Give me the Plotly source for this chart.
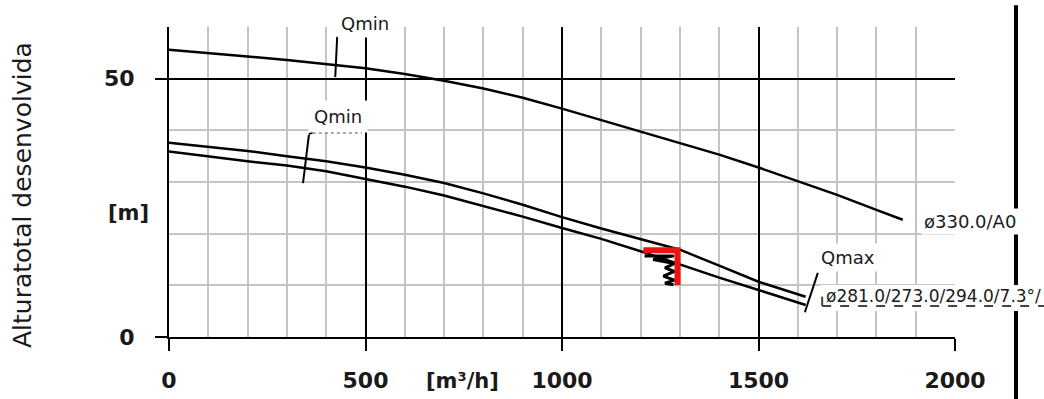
import plotly.graph_objects as go

# ---------------- data ----------------
q_330 = [0, 100, 200, 300, 400, 500, 600, 700, 800, 900, 1000, 1100, 1200, 1300, 1400, 1500, 1600, 1700, 1800, 1867]
h_330 = [55.6, 55.0, 54.3, 53.6, 52.8, 52.0, 50.9, 49.6, 48.1, 46.3, 44.2, 42.0, 39.8, 37.6, 35.3, 32.8, 30.2, 27.5, 24.6, 22.7]

q_mid = [0, 100, 200, 300, 400, 500, 600, 700, 800, 900, 1000, 1100, 1200, 1300, 1400, 1500, 1620]
h_mid_upper = [37.6, 36.8, 36.0, 35.0, 34.0, 32.8, 31.4, 29.8, 27.8, 25.6, 23.2, 21.0, 18.9, 16.9, 13.8, 10.7, 7.8]
h_mid_lower = [35.9, 34.9, 34.0, 33.2, 32.1, 30.6, 29.1, 27.4, 25.4, 23.3, 21.1, 19.0, 16.6, 14.0, 11.5, 9.1, 6.2]

# operating point marker (red) and hatch
op_x = [1207, 1294, 1294]
op_y = [16.8, 16.8, 10.0]
hatch_x = [1210, 1285, 1232, 1286, 1262, 1286, 1258, 1286, 1262, 1284]
hatch_y = [15.7, 15.7, 15.0, 14.2, 13.4, 12.7, 11.8, 11.0, 10.4, 10.1]

# Qmin / Qmax ticks
qmin_top_x = [428, 423]
qmin_top_y = [58.1, 50.3]
qmin_mid_x = [356, 341]
qmin_mid_y = [39.1, 29.8]
qmin_mid_lead_x = [356, 366]
qmin_mid_lead_y = [39.3, 39.6]
qmin_mid_dot_x = [366, 491]
qmin_mid_dot_y = [39.6, 39.6]
qmax_x = [1651, 1618]
qmax_y = [12.4, 4.8]

x_tickvals = [0, 500, 1000, 1500, 2000]
x_ticktext = ["0", "500", "1000", "1500", "2000"]
y_tickvals = [0, 50]
y_ticktext = ["0", "50"]

labels = ["Qmin", "Qmin", "Qmax", "ø330.0/A0", "ø281.0/273.0/294.0/7.3°/"]

TXT = "#1a1a1a"
FONT = "DejaVu Sans"

fig = go.Figure()

def line(x, y, color="black", width=2.5, dash=None):
    fig.add_trace(go.Scatter(x=x, y=y, mode="lines", showlegend=False, hoverinfo="skip",
                             line=dict(color=color, width=width, dash=dash)))

line(q_330, h_330)
line(q_mid, h_mid_upper)
line(q_mid, h_mid_lower)
line(qmin_top_x, qmin_top_y, width=2)
line(qmin_mid_x, qmin_mid_y, width=2)
line(qmin_mid_lead_x, qmin_mid_lead_y, width=2)
line(qmin_mid_dot_x, qmin_mid_dot_y, color="#555", width=2, dash="dot")
line(qmax_x, qmax_y, width=2)
line(hatch_x, hatch_y, width=3)
line(op_x, op_y, color="#ee1111", width=6)

# thick right vertical line
fig.add_shape(type="line", xref="paper", yref="paper", x0=1.0776, x1=1.0776, y0=1.07, y1=-0.25,
              line=dict(color="black", width=4), layer="above")
# white box behind the right label, with its dashed leader
fig.add_shape(type="rect", xref="paper", yref="paper", x0=0.829, x1=1.13, y0=0.084, y1=0.168,
              fillcolor="white", line=dict(width=0), layer="above")
fig.add_shape(type="line", xref="paper", yref="paper", x0=0.831, x1=1.12, y0=0.100, y1=0.100,
              line=dict(color="#444", width=2, dash="dash"), layer="above")
fig.add_shape(type="line", xref="paper", yref="paper", x0=0.831, x1=0.831, y0=0.100, y1=0.13,
              line=dict(color="#444", width=2), layer="above")

def ann(text, x, y, xanchor="center", size=18, xref="x", yref="y", pad=3, bg="white", bold=False, **kw):
    fig.add_annotation(text=text, x=x, y=y, xref=xref, yref=yref, xanchor=xanchor, yanchor="middle",
                       showarrow=False,
                       font=dict(family=FONT, size=size, color=TXT, weight="bold" if bold else "normal"),
                       bgcolor=bg, borderpad=pad, **kw)

ann(labels[0], 0.249, 1.01, xref="paper", yref="paper", size=18)
ann(labels[1], 430, 42.6, size=18, pad=5)
ann(labels[2], 1728, 15.3, size=18)
ann(labels[3], 1913, 22.4, xanchor="left", size=18, pad=2)
ann(labels[4], 1669, 7.9, xanchor="left", size=17, pad=0, bg=None)

ann("[m]", -0.052, 0.40, xref="paper", yref="paper", size=21, bg=None, pad=0, bold=True)
ann("[m³/h]", 0.373, -0.142, xref="paper", yref="paper", size=21, bg=None, pad=0, bold=True)
ann("Alturatotal desenvolvida", -0.187, 0.458, xref="paper", yref="paper", size=25, bg=None, pad=0,
    textangle=-90)

fig.update_layout(
    width=1044, height=399,
    margin=dict(l=169, r=89, t=27, b=62),
    paper_bgcolor="white", plot_bgcolor="white",
    font=dict(family=FONT, color=TXT),
    xaxis=dict(range=[0, 2000], tickvals=x_tickvals, ticktext=x_ticktext, automargin=False,
               showgrid=True, gridcolor="black", gridwidth=2,
               minor=dict(dtick=100, showgrid=True, gridcolor="#c4c4c4", gridwidth=2),
               showline=True, linecolor="black", linewidth=2,
               ticks="outside", ticklen=12, tickwidth=2, tickcolor="black",
               ticklabelstandoff=11,
               tickfont=dict(family=FONT, size=22, color=TXT, weight="bold"),
               zeroline=False, fixedrange=True),
    yaxis=dict(range=[0, 60], tickvals=y_tickvals, ticktext=y_ticktext, automargin=False,
               showgrid=True, gridcolor="black", gridwidth=2,
               minor=dict(dtick=10, showgrid=True, gridcolor="#c4c4c4", gridwidth=2),
               showline=True, linecolor="black", linewidth=2,
               ticks="outside", ticklen=12, tickwidth=2, tickcolor="black",
               ticklabelstandoff=16,
               tickfont=dict(family=FONT, size=22, color=TXT, weight="bold"),
               zeroline=False, fixedrange=True),
)

fig.write_html("out.html")
